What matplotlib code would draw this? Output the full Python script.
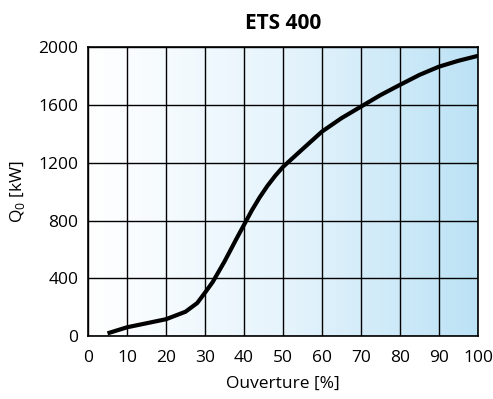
import numpy as np
import matplotlib
matplotlib.use('Agg')
import matplotlib.pyplot as plt
from matplotlib.colors import LinearSegmentedColormap

plt.rcParams['font.family'] = ['Open Sans', 'DejaVu Sans']

# Données
ouverture = [5, 10, 15, 20, 25, 28, 30, 32, 35, 38, 40, 42, 44, 46, 48, 50,
             55, 60, 65, 70, 75, 80, 85, 90, 95, 100]
puissance = [18, 60, 88, 116, 168, 228, 300, 375, 516, 670, 770, 870, 960, 1040, 1110, 1172,
             1295, 1417, 1510, 1590, 1670, 1741, 1810, 1867, 1908, 1942]

x_ticks = [0, 10, 20, 30, 40, 50, 60, 70, 80, 90, 100]
y_ticks = [0, 400, 800, 1200, 1600, 2000]

fig = plt.figure(figsize=(4.93, 3.99), dpi=100)
ax = fig.add_axes([0.1785, 0.158, 0.791, 0.723])

# Fond en dégradé blanc -> bleu clair
cmap = LinearSegmentedColormap.from_list('fond', ['#ffffff', '#e6f4fc', '#bce2f5'])
grad = np.linspace(0, 1, 256).reshape(1, -1)
ax.imshow(grad, cmap=cmap, extent=[0, 100, 0, 2000], aspect='auto', zorder=0)

ax.plot(ouverture, puissance, color='black', linewidth=3, solid_capstyle='butt',
        solid_joinstyle='round', zorder=3)

ax.set_xlim(0, 100)
ax.set_ylim(0, 2000)
ax.set_xticks(x_ticks)
ax.set_yticks(y_ticks)
ax.tick_params(length=0, labelsize=12.5)
ax.tick_params(axis='x', pad=10)
ax.tick_params(axis='y', pad=7)
ax.grid(color='black', linewidth=1)
ax.set_axisbelow(False)
for s in ax.spines.values():
    s.set_linewidth(1.2)

ax.set_xlabel('Ouverture [%]', fontsize=12.5, labelpad=7)
ax.set_ylabel(r'Q$_\mathregular{0}$ [kW]', fontsize=12.5, labelpad=8)
ax.set_title('ETS 400', fontsize=15, fontweight='bold', pad=13)

fig.savefig('out.png', dpi=100)
